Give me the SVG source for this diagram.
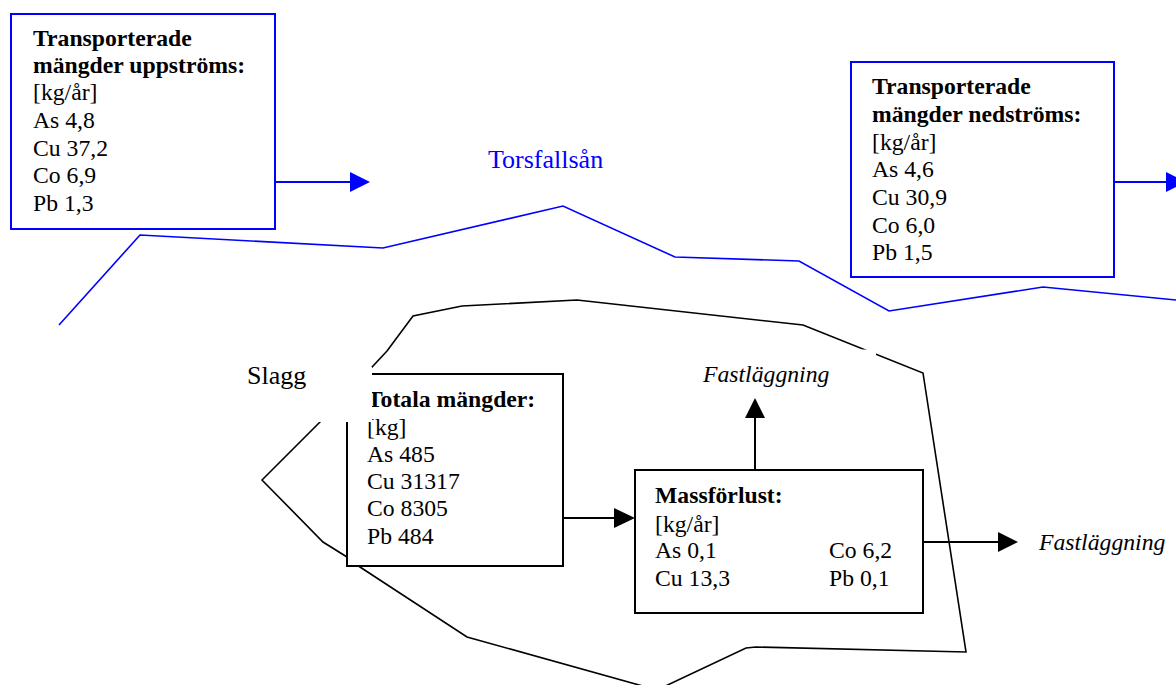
<svg xmlns="http://www.w3.org/2000/svg" width="1176" height="685" viewBox="0 0 1176 685">
<style>
text{font-family:"Liberation Serif","Times New Roman",serif;font-size:23.7px;fill:#000}
.b{font-weight:bold}
.i{font-style:italic}
.blue{fill:#0000ff}
.bbox{fill:#fff;stroke:#0000ff;stroke-width:2}
.kbox{fill:#fff;stroke:#000;stroke-width:2}
.river{fill:none;stroke:#0000ff;stroke-width:1.6}
.area{fill:none;stroke:#000;stroke-width:1.6;stroke-linejoin:miter}
.mask{fill:#fff;stroke:none}
.ln{stroke:#000;stroke-width:2;fill:none}
.lnb{stroke:#0000ff;stroke-width:2;fill:none}
.hd{fill:#000}
.hdb{fill:#0000ff}
</style>
<rect width="1176" height="685" fill="#fff"/>
<g id="river">
<polyline class="river" points="59,325 140,235 383,248 563,206 675,257 799,261 889,311 1043,287 1176,300"/>
<text class="blue" x="488" y="168" style="font-size:26px">Torsfallsån</text>
</g>
<g id="slaggomrade">
<polygon class="area" points="262,480 332,410 387,351 413,316 462,306 577,300 803,325 923,373 966,652 756,647 746,648 657,690 467,637 360,567 347,557 323,542"/>
</g>
<g id="uppstroms">
<rect class="bbox" x="11" y="14" width="264" height="215"/>
<text class="b" x="33" y="46">Transporterade</text>
<text class="b" x="33" y="73">mängder uppströms:</text>
<text x="33" y="100">[kg/år]</text>
<text x="33" y="128">As 4,8</text>
<text x="33" y="156">Cu 37,2</text>
<text x="33" y="183">Co 6,9</text>
<text x="33" y="211">Pb 1,3</text>
</g>
<g id="nedstroms">
<rect class="bbox" x="851" y="62" width="263" height="215"/>
<text class="b" x="872" y="94">Transporterade</text>
<text class="b" x="872" y="122">mängder nedströms:</text>
<text x="872" y="150">[kg/år]</text>
<text x="872" y="177">As 4,6</text>
<text x="872" y="205">Cu 30,9</text>
<text x="872" y="233">Co 6,0</text>
<text x="872" y="260">Pb 1,5</text>
</g>
<g id="totala">
<rect class="kbox" x="347" y="374" width="216" height="192"/>
<text class="b" x="367" y="407">Totala mängder:</text>
<text x="367" y="435">[kg]</text>
<text x="367" y="462">As 485</text>
<text x="367" y="489">Cu 31317</text>
<text x="367" y="516">Co 8305</text>
<text x="367" y="544">Pb 484</text>
</g>
<g id="slagg">
<rect class="mask" x="236" y="367" width="136" height="55"/>
<text x="247" y="384" style="font-size:26px">Slagg</text>
</g>
<g id="massforlust">
<rect class="kbox" x="635" y="470" width="288" height="143"/>
<text class="b" x="655" y="503">Massförlust:</text>
<text x="655" y="532">[kg/år]</text>
<text x="655" y="558">As 0,1</text>
<text x="655" y="586">Cu 13,3</text>
<text x="829" y="558">Co 6,2</text>
<text x="829" y="586">Pb 0,1</text>
</g>
<g id="fastlaggning-upp">
<rect class="mask" x="695" y="349.5" width="181" height="44"/>
<text class="i" x="703" y="382">Fastläggning</text>
</g>
<g id="fastlaggning-hoger">
<text class="i" x="1039" y="550">Fastläggning</text>
</g>
<g id="connectors">
<line class="lnb" x1="275" y1="182" x2="352" y2="182"/>
<polygon class="hdb" points="350,172 370,182 350,192"/>
<line class="lnb" x1="1114" y1="182" x2="1168" y2="182"/>
<polygon class="hdb" points="1166,172 1186,182 1166,192"/>
<line class="ln" x1="563" y1="518" x2="616" y2="518"/>
<polygon class="hd" points="614,508 635,518 614,528"/>
<line class="ln" x1="755" y1="470" x2="755" y2="416"/>
<polygon class="hd" points="745,418 755,398 765,418"/>
<line class="ln" x1="923" y1="542" x2="1000" y2="542"/>
<polygon class="hd" points="998,532 1018,542 998,552"/>
</g>
</svg>
